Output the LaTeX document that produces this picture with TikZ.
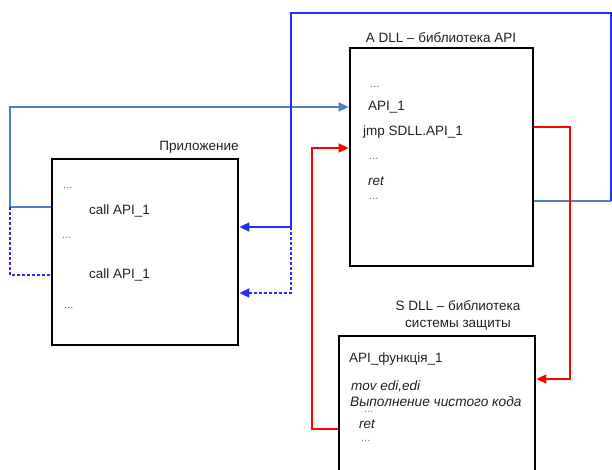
\documentclass[tikz,border=0pt]{standalone}
\usepackage{fontspec}
\setmainfont{Liberation Sans}
\usetikzlibrary{arrows.meta}
\definecolor{lblue}{HTML}{4F81BD}
\definecolor{bblue}{HTML}{2A2AFF}
\definecolor{rred}{HTML}{FF0000}
\definecolor{txt}{HTML}{222222}
\begin{document}
\begin{tikzpicture}[x=1pt,y=-1pt,
  box/.style={draw=black,line width=2.8pt,fill=white,inner sep=0pt},
  lbl/.style={anchor=west,inner sep=0pt,text=txt,font=\fontsize{13.5}{16}\selectfont},
  dots/.style={anchor=west,inner sep=0pt,text=black!55,font=\fontsize{11}{13}\selectfont},
  ttl/.style={inner sep=0pt,text=txt,font=\fontsize{13.5}{17}\selectfont,align=center},
  tip/.style={-{Triangle[length=10pt,width=9pt]}},
  lb/.style={draw=lblue,line width=1.4pt},
  bb/.style={draw=bblue,line width=1.3pt},
  bbd/.style={draw=bblue,line width=1.6pt,dash pattern=on 3pt off 2pt},
  rd/.style={draw=rred,line width=1.5pt}]
\useasboundingbox (0,0) rectangle (612,470);
\clip (0,0) rectangle (612,470);
\fill[white] (0,0) rectangle (612,470);
% boxes
\node[box,minimum width=186pt,minimum height=186pt] (app) at (145,252) {};
\node[box,minimum width=183pt,minimum height=218pt] (adll) at (441.5,157) {};
\node[box,minimum width=196pt,minimum height=160pt] (sdll) at (437,416) {};
% titles
\node[ttl] (tapp) at (199,147) {Приложение};
\node[ttl] (tadll) at (441,38) {A DLL – библиотека API};
\node[ttl] (tsdll) at (458,315) {S DLL – библиотека\\системы защиты};
% app text
\node[dots] (a1) at (63,188) {...};
\node[lbl] (a2) at (89,211) {call API\_1};
\node[dots] (a3) at (62,238) {...};
\node[lbl] (a4) at (89,275) {call API\_1};
\node[dots] (a5) at (64,308) {...};
% A DLL text
\node[dots] (b1) at (370,87) {...};
\node[lbl] (b2) at (368,107) {API\_1};
\node[lbl] (b3) at (363,132) {jmp SDLL.API\_1};
\node[dots] (b4) at (369,159) {...};
\node[lbl,font=\fontsize{13.5}{16}\selectfont\itshape] (b5) at (368,181) {ret};
\node[dots] (b6) at (369,199) {...};
% S DLL text
\node[lbl] (c1) at (349,359) {API\_функція\_1};
\node[lbl,font=\fontsize{13.5}{16}\selectfont\itshape] (c2) at (351,386) {mov edi,edi};
\node[lbl,font=\fontsize{13.7}{16}\selectfont\itshape] (c3) at (350,402) {Выполнение чистого кода};
\node[dots] (c4) at (364,411.5) {...};
\node[lbl,font=\fontsize{13.5}{16}\selectfont\itshape] (c5) at (359,424) {ret};
\node[dots] (c6) at (361,441) {...};
% coordinates
\coordinate (lbL) at (10,207);
\coordinate (lbT) at (10,107);
\coordinate (rtB) at (611,201);
\coordinate (rtT) at (611,13);
\coordinate (mT) at (291,13);
\coordinate (mB) at (291,227);
\coordinate (rA) at (570,127);
\coordinate (rB) at (570,379);
\coordinate (rC) at (312,429);
\coordinate (rD) at (312,148);
% connectors
\draw[lb,tip] (app.west |- lbL) -- (lbL) -- (lbT) -- (adll.west |- lbT);
\draw[bbd] (lbL) -- (10,275) -- (app.west |- 0,275);
\draw[lb] (adll.east |- rtB) -- (rtB);
\draw[bb] (rtB) -- (rtT) -- (mT) -- (mB);
\draw[bb,line width=1.6pt,tip] (mB) -- (app.east |- mB);
\draw[bbd,tip] (mB) -- (291,293) -- (app.east |- 0,293);
\draw[rd,tip] (adll.east |- rA) -- (rA) -- (rB) -- (sdll.east |- rB);
\draw[rd,tip] (sdll.west |- rC) -- (rC) -- (rD) -- (adll.west |- rD);
\end{tikzpicture}
\end{document}
